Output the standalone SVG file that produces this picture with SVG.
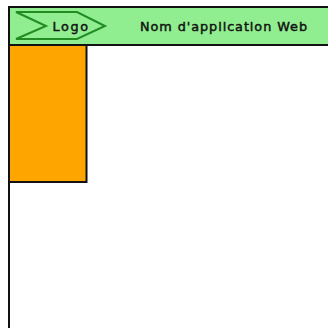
<svg xmlns="http://www.w3.org/2000/svg" width="328" height="328" viewBox="0 0 328 328">
<style>
.b{stroke:#111;stroke-width:2}
text{font-family:"DejaVu Sans",sans-serif;font-size:12.800px;fill:#111;stroke:#111;stroke-width:.45}
</style>
<rect width="328" height="328" fill="#fff"/>
<g id="frame"><line class="b" x1="9" y1="7" x2="9" y2="328"/></g>
<g id="sidebar"><rect class="b" x="9" y="45" width="77.500" height="137" fill="#ffa500"/></g>
<g id="header"><rect class="b" x="9" y="7" width="321" height="38" fill="#90ee90"/>
<text x="140" y="30.500" textLength="167" lengthAdjust="spacing">Nom d'application Web</text></g>
<g id="logo"><path d="M16 12H77L105 26L77 39H16L46 26Z" fill="none" stroke="#228b22" stroke-width="2"/>
<text x="52.500" y="30.500" textLength="35.500" lengthAdjust="spacing">Logo</text></g>
</svg>
